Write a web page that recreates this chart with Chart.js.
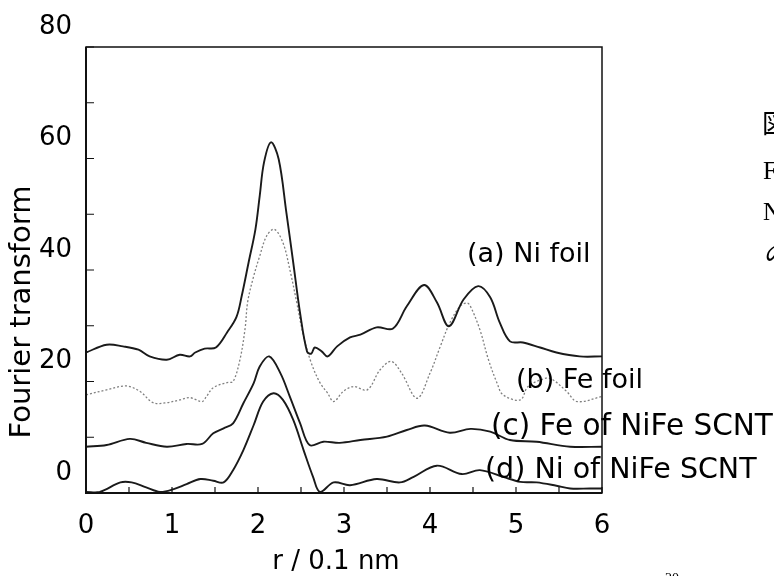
<!DOCTYPE html>
<html>
<head>
<meta charset="utf-8">
<script src="https://cdn.jsdelivr.net/npm/chart.js@4.4.1/dist/chart.umd.min.js"></script>
<style>
  html, body { margin: 0; padding: 0; background: #ffffff; }
  #wrap { width: 774px; height: 576px; }
</style>
</head>
<body>
<div id="wrap"><canvas id="c" width="774" height="576"></canvas></div>
<script>
// r / 0.1 nm positions and Fourier transform magnitudes
const rA = [0,0.24,0.43,0.61,0.74,0.94,1.09,1.21,1.27,1.38,1.51,1.64,1.75,1.81,1.89,1.97,2.02,2.07,2.15,2.24,2.33,2.41,2.49,2.57,2.62,2.66,2.74,2.81,2.92,3.07,3.19,3.38,3.57,3.73,3.93,4.08,4.22,4.39,4.56,4.70,4.81,4.93,5.08,5.28,5.47,5.74,6.00];
const fA = [25.2,26.6,26.3,25.7,24.5,23.9,24.8,24.5,25.2,25.9,26.1,28.8,31.6,35.3,41.3,47.3,53.3,59.3,62.9,59.9,50.3,41.3,32.2,25.4,25.0,26.1,25.4,24.5,26.3,27.9,28.4,29.7,29.5,33.5,37.3,34.2,29.9,34.7,37.1,35.1,30.6,27.2,27.0,26.1,25.2,24.5,24.5];

const rB = [0,0.24,0.47,0.63,0.78,0.94,1.09,1.21,1.35,1.40,1.48,1.64,1.71,1.79,1.85,1.88,1.95,2.02,2.10,2.19,2.29,2.37,2.45,2.53,2.62,2.72,2.81,2.88,2.99,3.11,3.27,3.42,3.55,3.67,3.85,4.00,4.12,4.23,4.35,4.43,4.47,4.58,4.68,4.78,4.85,5.05,5.14,5.35,5.43,5.59,5.71,6.00];
const fB = [17.6,18.5,19.2,18.2,16.2,16.2,16.7,17.1,16.4,17.3,18.9,19.8,20.0,23.9,29.5,34.3,38.9,42.5,46.1,47.3,44.9,40.1,34.2,28.1,23.3,19.8,17.9,16.4,18.2,19.1,18.5,22.1,23.6,21.5,17.0,21.5,26.3,30.5,33.5,34.1,33.5,29.3,23.9,19.7,17.6,16.7,19.1,20.6,20.3,18.2,16.4,17.3];

const rC = [0,0.24,0.51,0.70,0.94,1.17,1.35,1.48,1.60,1.71,1.83,1.95,2.02,2.13,2.26,2.37,2.49,2.60,2.76,2.95,3.19,3.50,3.73,3.94,4.23,4.47,4.70,4.93,5.24,5.63,6.00];
const fC = [8.3,8.6,9.7,9.0,8.3,8.8,8.8,10.7,11.6,12.5,16.1,19.7,22.7,24.5,21.5,17.3,12.5,8.6,9.2,9.0,9.5,10.1,11.3,12.1,10.8,11.5,11.0,9.5,9.2,8.3,8.3];

const rD = [0,0.16,0.40,0.53,0.70,0.86,1.02,1.17,1.33,1.48,1.60,1.71,1.83,1.95,2.06,2.18,2.29,2.41,2.53,2.64,2.72,2.88,3.07,3.38,3.65,3.81,4.08,4.37,4.58,4.85,5.05,5.24,5.47,5.63,5.86,6.00];
const fD = [0.2,0.2,1.9,1.9,1.0,0.2,0.7,1.6,2.5,2.2,1.9,4.1,7.7,12.2,16.4,17.9,16.7,13.1,7.7,2.9,0.2,1.9,1.4,2.5,1.9,2.9,4.9,3.4,4.1,2.9,2.0,1.9,1.3,0.8,0.8,0.8];

const seriesNames = ["(a) Ni foil", "(b) Fe foil", "(c) Fe of NiFe SCNT", "(d) Ni of NiFe SCNT"];
const xTitle = "r / 0.1 nm";
const yTitle = "Fourier transform";

const toPts = (xs, ys) => xs.map((x, i) => ({ x: x, y: ys[i] }));

const FONT = "'DejaVu Sans', 'Liberation Sans', sans-serif";

const decor = {
  id: 'decor',
  afterDatasetsDraw(chart) {
    const ctx = chart.ctx;
    const a = chart.chartArea;
    const xs = chart.scales.x, ys = chart.scales.y;
    ctx.save();
    // series labels
    ctx.fillStyle = '#000';
    ctx.textAlign = 'left';
    ctx.textBaseline = 'middle';
    ctx.font = '27px ' + FONT;
    ctx.fillText(seriesNames[0], 467, 255);
    ctx.fillText(seriesNames[1], 516, 381);
    ctx.font = '29.5px ' + FONT;
    ctx.fillText(seriesNames[2], 491, 427);
    ctx.font = '28.5px ' + FONT;
    ctx.fillText(seriesNames[3], 485, 471);

    // frame
    ctx.strokeStyle = '#111';
    ctx.lineWidth = 1.5;
    ctx.strokeRect(a.left, a.top, a.right - a.left, a.bottom - a.top);
    ctx.lineWidth = 2;
    ctx.beginPath();
    ctx.moveTo(a.left, a.top); ctx.lineTo(a.left, a.bottom); ctx.lineTo(a.right, a.bottom);
    ctx.stroke();

    // inward tick marks
    ctx.lineWidth = 1.2;
    ctx.beginPath();
    ys.ticks.forEach(t => {
      const p = ys.getPixelForValue(t.value);
      ctx.moveTo(a.left, p); ctx.lineTo(a.left + 8, p);
    });
    xs.ticks.forEach(t => {
      const p = xs.getPixelForValue(t.value);
      ctx.moveTo(p, a.bottom); ctx.lineTo(p, a.bottom - 6);
    });
    ctx.stroke();

    // axis titles
    ctx.font = '26px ' + FONT;
    ctx.textAlign = 'center';
    ctx.textBaseline = 'middle';
    ctx.fillText(xTitle, 336, 562);
    ctx.save();
    ctx.translate(22, 312);
    ctx.rotate(-Math.PI / 2);
    ctx.font = '29px ' + FONT;
    ctx.fillText(yTitle, 0, 0);
    ctx.restore();

    // cropped text of the surrounding page at the right edge
    ctx.textAlign = 'left';
    ctx.font = "26px 'Noto Sans CJK JP'";
    ctx.fillText('図', 762, 123);
    ctx.font = "25px 'Liberation Serif'";
    ctx.fillText('F', 763, 172);
    ctx.fillText('N', 763, 213);
    ctx.font = "italic 24px 'Noto Sans CJK JP'";
    ctx.fillText('の', 763, 253);
    ctx.font = "14px 'Liberation Serif'";
    ctx.textBaseline = 'top';
    ctx.fillText('20', 665, 572);
    ctx.restore();
  }
};

const solid = (label, xs, ys) => ({
  label, data: toPts(xs, ys),
  borderColor: '#1a1a1a', borderWidth: 1.9, pointRadius: 0,
  tension: 0.35, fill: false
});

new Chart(document.getElementById('c'), {
  type: 'line',
  data: {
    datasets: [
      solid(seriesNames[0], rA, fA),
      { label: seriesNames[1], data: toPts(rB, fB), borderColor: '#808080', borderWidth: 1.3,
        borderDash: [2, 2], pointRadius: 0, tension: 0.35, fill: false },
      solid(seriesNames[2], rC, fC),
      solid(seriesNames[3], rD, fD)
    ]
  },
  options: {
    responsive: false,
    animation: false,
    devicePixelRatio: 1,
    layout: { padding: { left: 0, top: 47, right: 172, bottom: 0 } },
    plugins: { legend: { display: false }, tooltip: { enabled: false } },
    scales: {
      x: {
        type: 'linear', min: 0, max: 6,
        grid: { display: false }, border: { display: false },
        ticks: {
          stepSize: 0.5, autoSkip: false, maxRotation: 0, padding: 10,
          color: '#000', font: { family: FONT, size: 26 },
          callback: v => Number.isInteger(v) ? String(v) : ''
        },
        afterFit: s => { s.height = 83; }
      },
      y: {
        type: 'linear', min: 0, max: 80,
        grid: { display: false }, border: { display: false },
        ticks: {
          stepSize: 10, autoSkip: false, padding: 6, labelOffset: -20,
          color: '#000', font: { family: FONT, size: 26 },
          callback: v => (v % 20 === 0) ? String(v) : ''
        },
        afterFit: s => { s.width = 86; }
      }
    }
  },
  plugins: [decor]
});
</script>
</body>
</html>
